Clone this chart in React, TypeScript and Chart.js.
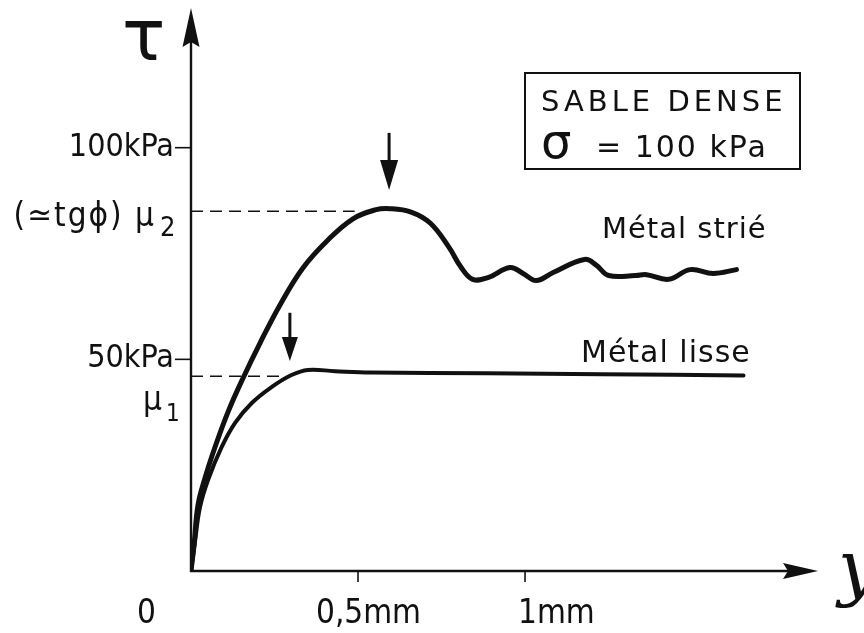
import React, { useEffect, useRef } from "react";
import { Chart, registerables } from "chart.js";

Chart.register(...registerables);

// Shear displacement y (mm) and shear stress tau (kPa)
const STRIE_X = [0, 0.009, 0.021, 0.042, 0.072, 0.111, 0.156, 0.207, 0.266, 0.335, 0.41, 0.485, 0.551, 0.596, 0.659, 0.716, 0.772, 0.808, 0.843, 0.889, 0.955, 0.994, 1.033, 1.084, 1.178, 1.214, 1.25, 1.331, 1.364, 1.43, 1.494, 1.563, 1.633];
const STRIE_TAU = [0, 6.1, 15.6, 22, 29.3, 37.6, 45.6, 53.9, 62.8, 71.6, 78.2, 83.2, 85.3, 85.6, 84.8, 82.2, 76.5, 71.8, 68.9, 69.3, 71.7, 70.3, 68.6, 70.5, 73.6, 72.2, 69.8, 69.8, 70, 68.9, 71.2, 70.3, 71.2];
const LISSE_X = [0, 0.012, 0.027, 0.051, 0.092, 0.132, 0.182, 0.242, 0.301, 0.35, 0.431, 0.54, 0.885, 1.23, 1.654];
const LISSE_TAU = [0, 7, 15.1, 21.5, 29.3, 35, 39.7, 43.5, 46.3, 47.5, 47.2, 46.9, 46.7, 46.5, 46.2];

const MU2 = 85;
const MU2_END = 0.49;
const MU1 = 46;
const MU1_END = 0.27;

const Y_TICKS = [50, 100];
const Y_TICK_LABELS = ["50kPa", "100kPa"];
const X_TICKS = [0.5, 1];
const X_TICK_LABELS = ["0,5mm", "1mm"];

// peak markers (down arrows)
const PEAK_X = [0.593, 0.296];
const PEAK_ARROW_TOP = [103.5, 61];
const PEAK_ARROW_TIP = [90, 49.6];

const X_MAX = 1.877;
const Y_MAX = 133;

const INK = "#111";
const COND = '"DejaVu Sans Condensed", "DejaVu Sans", sans-serif';
const SANS = '"DejaVu Sans", sans-serif';

function pts(xs: number[], ys: number[]) {
  return xs.map((v, i) => ({ x: v, y: ys[i] }));
}

const drawPlugin = {
  id: "figure",
  beforeDraw(chart: any) {
    const ctx = chart.ctx;
    ctx.save();
    ctx.fillStyle = "#fff";
    ctx.fillRect(0, 0, chart.width, chart.height);
    ctx.restore();
  },
  afterDraw(chart: any) {
    const ctx: CanvasRenderingContext2D = chart.ctx;
    const { top, right } = chart.chartArea;
    const xs = chart.scales.x;
    const ys = chart.scales.y;
    const x0 = xs.getPixelForValue(0);
    const y0 = ys.getPixelForValue(0);
    ctx.save();
    ctx.strokeStyle = INK;
    ctx.fillStyle = INK;
    ctx.lineCap = "butt";

    // axes
    ctx.lineWidth = 2.4;
    ctx.beginPath();
    ctx.moveTo(x0, y0 + 1);
    ctx.lineTo(x0, top + 30);
    ctx.moveTo(x0 - 1, y0);
    ctx.lineTo(right - 25, y0);
    ctx.stroke();
    // y arrow head
    ctx.beginPath();
    ctx.moveTo(x0, top);
    ctx.lineTo(x0 + 8.5, top + 39);
    ctx.lineTo(x0, top + 34);
    ctx.lineTo(x0 - 8.5, top + 39);
    ctx.closePath();
    ctx.fill();
    // x arrow head
    ctx.beginPath();
    ctx.moveTo(right, y0);
    ctx.lineTo(right - 35, y0 + 8);
    ctx.lineTo(right - 30, y0);
    ctx.lineTo(right - 35, y0 - 8);
    ctx.closePath();
    ctx.fill();

    // y ticks + labels
    ctx.lineWidth = 1.6;
    ctx.font = `32px ${COND}`;
    ctx.textAlign = "right";
    ctx.textBaseline = "alphabetic";
    Y_TICKS.forEach((t, i) => {
      const py = ys.getPixelForValue(t);
      ctx.beginPath();
      ctx.moveTo(x0 - 16, py);
      ctx.lineTo(x0, py);
      ctx.stroke();
      ctx.fillText(Y_TICK_LABELS[i], x0 - 17, py + 8);
    });
    // x ticks + labels
    ctx.textAlign = "left";
    X_TICKS.forEach((t) => {
      const px = xs.getPixelForValue(t);
      ctx.beginPath();
      ctx.moveTo(px, y0);
      ctx.lineTo(px, y0 + 11);
      ctx.stroke();
    });
    ctx.font = `33px ${COND}`;
    ctx.fillText("0", 137, 623);
    ctx.fillText(X_TICK_LABELS[0], 316, 623);
    ctx.fillText(X_TICK_LABELS[1], 518, 623);

    // mu labels
    ctx.textAlign = "right";
    ctx.font = `33px ${COND}`;
    (ctx as any).letterSpacing = "2px";
    ctx.fillText("(\u2243tg\u03D5) \u03BC", 156, 226);
    (ctx as any).letterSpacing = "0px";
    ctx.font = `27px ${COND}`;
    ctx.textAlign = "left";
    ctx.fillText("2", 160, 236);
    ctx.font = `33px ${COND}`;
    ctx.textAlign = "right";
    ctx.fillText("\u03BC", 162, 410);
    ctx.font = `24px ${COND}`;
    ctx.textAlign = "left";
    ctx.fillText("1", 166, 421);

    // axis titles
    ctx.font = `72px ${SANS}`;
    ctx.textAlign = "left";
    ctx.fillText("\u03C4", 122, 60);
    ctx.font = `italic 72px "DejaVu Serif", serif`;
    ctx.fillText("y", 838, 592);

    // down arrows at the peaks
    PEAK_X.forEach((vx, i) => {
      const px = xs.getPixelForValue(vx);
      const pt = ys.getPixelForValue(PEAK_ARROW_TOP[i]);
      const pb = ys.getPixelForValue(PEAK_ARROW_TIP[i]);
      const head = i === 0 ? 30 : 24;
      const hw = i === 0 ? 9 : 8;
      ctx.lineWidth = 3;
      ctx.beginPath();
      ctx.moveTo(px, pt);
      ctx.lineTo(px, pb - head + 4);
      ctx.stroke();
      ctx.beginPath();
      ctx.moveTo(px, pb);
      ctx.lineTo(px - hw, pb - head);
      ctx.lineTo(px + hw, pb - head);
      ctx.closePath();
      ctx.fill();
    });

    // curve labels
    ctx.textAlign = "left";
    ctx.font = `29px ${SANS}`;
    (ctx as any).letterSpacing = "1px";
    ctx.fillText("M\u00E9tal stri\u00E9", 602, 238);
    ctx.font = `30px ${SANS}`;
    ctx.fillText("M\u00E9tal lisse", 581, 362);

    // box
    ctx.lineWidth = 2;
    ctx.strokeRect(525, 73, 275, 96);
    ctx.font = `29px ${SANS}`;
    (ctx as any).letterSpacing = "4px";
    ctx.fillText("SABLE DENSE", 541, 111);
    (ctx as any).letterSpacing = "0px";
    ctx.font = `48px ${SANS}`;
    ctx.fillText("\u03C3", 541, 158);
    ctx.font = `30px ${SANS}`;
    (ctx as any).letterSpacing = "2px";
    ctx.fillText("= 100 kPa", 596, 157);
    (ctx as any).letterSpacing = "0px";

    ctx.restore();
  },
};

export default function App() {
  const ref = useRef<HTMLCanvasElement | null>(null);
  useEffect(() => {
    if (!ref.current) return;
    const chart = new Chart(ref.current, {
      type: "scatter",
      data: {
        datasets: [
          {
            label: "Métal strié",
            data: pts(STRIE_X, STRIE_TAU),
            showLine: true,
            borderColor: INK,
            borderWidth: 5,
            pointRadius: 0,
            tension: 0.4,
            borderCapStyle: "round",
            borderJoinStyle: "round",
            fill: false,
          },
          {
            label: "Métal lisse",
            data: pts(LISSE_X, LISSE_TAU),
            showLine: true,
            borderColor: INK,
            borderWidth: 4,
            pointRadius: 0,
            tension: 0.4,
            borderCapStyle: "round",
            borderJoinStyle: "round",
            fill: false,
          },
          {
            label: "μ2",
            data: [
              { x: 0, y: MU2 },
              { x: MU2_END, y: MU2 },
            ],
            showLine: true,
            borderColor: INK,
            borderWidth: 1.6,
            borderDash: [12, 7],
            pointRadius: 0,
          },
          {
            label: "μ1",
            data: [
              { x: 0, y: MU1 },
              { x: MU1_END, y: MU1 },
            ],
            showLine: true,
            borderColor: INK,
            borderWidth: 1.6,
            borderDash: [12, 7],
            pointRadius: 0,
          },
        ],
      },
      options: {
        responsive: false,
        animation: false,
        layout: { padding: { left: 191, right: 46, top: 8, bottom: 62 } },
        plugins: { legend: { display: false }, tooltip: { enabled: false } },
        scales: {
          x: { type: "linear", min: 0, max: X_MAX, display: false },
          y: { type: "linear", min: 0, max: Y_MAX, display: false },
        },
      } as any,
      plugins: [drawPlugin],
    });
    return () => chart.destroy();
  }, []);
  return (
    <div style={{ position: "fixed", left: 0, top: 0, width: 864, height: 633, background: "#fff" }}>
      <canvas ref={ref} width={864} height={633} style={{ display: "block" }} />
    </div>
  );
}
